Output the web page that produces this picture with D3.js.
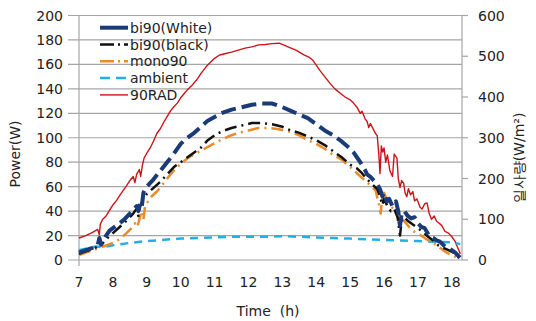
<!DOCTYPE html>
<html>
<head>
<meta charset="utf-8">
<script src="https://cdn.jsdelivr.net/npm/d3@7"></script>
<style>
  body { margin: 0; background: #fff; }
  text { font-family: "DejaVu Sans", Verdana, sans-serif; fill: #222; }
</style>
</head>
<body>
<div id="chart"></div>
<script>
// datos (hora, valor)
const radData = [[7.0,54],[7.2,60],[7.4,68],[7.55,75],[7.6,62],[7.63,88],[7.7,100],[7.8,108],[7.9,122],[8.0,135],[8.1,145],[8.2,158],[8.3,170],[8.4,182],[8.5,195],[8.6,205],[8.65,190],[8.7,210],[8.78,222],[8.82,205],[8.87,232],[8.92,250],[9.0,262],[9.1,275],[9.2,292],[9.3,311],[9.4,322],[9.5,338],[9.6,352],[9.7,366],[9.8,376],[9.9,385],[10.0,398],[10.1,408],[10.2,418],[10.35,430],[10.5,445],[10.6,458],[10.75,474],[10.9,487],[11.0,495],[11.15,503],[11.3,506],[11.5,510],[11.7,515],[11.9,520],[12.1,523],[12.3,528],[12.5,529],[12.7,531],[12.9,532],[13.0,529],[13.2,522],[13.4,515],[13.5,510],[13.65,503],[13.8,497],[13.9,490],[14.0,478],[14.1,466],[14.25,450],[14.4,434],[14.55,420],[14.7,410],[14.85,400],[15.0,393],[15.1,385],[15.2,375],[15.3,360],[15.35,365],[15.45,345],[15.5,340],[15.55,325],[15.6,335],[15.7,318],[15.75,310],[15.8,305],[15.85,255],[15.88,212],[15.92,280],[15.96,265],[16.0,275],[16.05,240],[16.1,258],[16.17,220],[16.25,205],[16.3,260],[16.38,250],[16.42,200],[16.47,178],[16.52,195],[16.58,188],[16.62,165],[16.67,155],[16.72,175],[16.78,160],[16.85,168],[16.9,145],[16.97,150],[17.06,130],[17.12,125],[17.2,138],[17.27,140],[17.33,115],[17.4,100],[17.48,108],[17.55,95],[17.6,92],[17.7,85],[17.8,70],[17.9,66],[18.0,57],[18.1,45],[18.2,25],[18.25,15]];

const whiteData = [[7.0,6],[7.2,8],[7.4,10],[7.55,12],[7.6,18],[7.65,13],[7.8,20],[7.9,24],[8.0,26],[8.15,29],[8.33,33],[8.5,38],[8.63,42],[8.7,44],[8.75,40],[8.8,46],[8.85,43],[8.9,55],[8.95,58],[9.0,60],[9.2,66],[9.4,73],[9.6,80],[9.8,87],[10.0,95],[10.2,100],[10.4,104],[10.6,109],[10.8,114],[11.0,117],[11.2,120],[11.5,123],[11.8,125],[12.1,127],[12.4,128],[12.7,128],[13.0,125],[13.25,122],[13.5,119],[13.75,116],[14.0,111],[14.25,106],[14.5,102],[14.75,97],[15.0,91],[15.1,88],[15.25,82],[15.37,77],[15.45,73],[15.5,70],[15.6,68],[15.7,65],[15.8,62],[15.88,58],[15.95,52],[16.0,55],[16.08,48],[16.15,50],[16.25,44],[16.35,48],[16.42,40],[16.47,28],[16.52,38],[16.6,40],[16.7,36],[16.8,34],[16.9,35],[17.0,30],[17.1,27],[17.2,26],[17.35,19],[17.45,18],[17.55,16],[17.65,15],[17.8,11],[17.9,10],[18.0,8],[18.1,6],[18.24,2]];

const blackData = [[7.0,5],[7.2,7],[7.4,9],[7.55,11],[7.6,16],[7.65,12],[7.8,17],[8.0,22],[8.2,27],[8.4,32],[8.6,38],[8.7,42],[8.75,36],[8.8,44],[8.9,50],[9.0,54],[9.2,59],[9.4,64],[9.6,70],[9.8,76],[10.0,80],[10.2,84],[10.4,88],[10.6,92],[10.8,98],[11.0,102],[11.2,105],[11.5,108],[11.8,110],[12.1,112],[12.4,112],[12.7,111],[13.0,109],[13.25,106],[13.5,104],[13.75,101],[14.0,98],[14.25,94],[14.5,89],[14.75,84],[15.0,78],[15.2,75],[15.35,71],[15.5,66],[15.65,62],[15.8,58],[15.88,52],[15.95,45],[16.0,50],[16.1,44],[16.2,40],[16.3,42],[16.4,35],[16.47,20],[16.52,32],[16.6,35],[16.7,32],[16.85,29],[17.0,26],[17.15,23],[17.3,19],[17.45,16],[17.6,12],[17.75,10],[17.9,8],[18.05,6],[18.24,1]];

const monoData = [[7.0,4],[7.2,6],[7.4,8],[7.6,10],[7.8,12],[8.0,14],[8.2,17],[8.4,22],[8.55,26],[8.65,30],[8.72,27],[8.8,35],[8.85,40],[8.9,33],[8.95,44],[9.1,51],[9.3,56],[9.5,63],[9.7,70],[9.9,76],[10.1,81],[10.3,85],[10.5,88],[10.7,91],[10.9,94],[11.1,97],[11.4,101],[11.7,104],[12.0,106],[12.3,108],[12.6,108],[12.9,107],[13.2,105],[13.5,102],[13.75,98],[14.0,95],[14.25,91],[14.5,86],[14.75,82],[15.0,76],[15.2,71],[15.4,66],[15.6,61],[15.75,57],[15.85,45],[15.9,38],[15.95,52],[16.0,55],[16.1,48],[16.2,45],[16.3,40],[16.4,36],[16.47,26],[16.55,33],[16.65,30],[16.8,25],[16.95,22],[17.1,20],[17.25,17],[17.4,15],[17.55,12],[17.7,9],[17.85,6],[18.0,4],[18.24,1]];

const ambientData = [[7.0,8],[7.3,10],[7.5,11],[7.7,10.5],[8.0,12],[8.5,14],[9.0,15.5],[9.5,16.5],[10.0,17.5],[10.5,18],[11.0,18.5],[11.5,19],[12.0,19],[12.5,19],[13.0,19.5],[13.5,19],[14.0,18.5],[14.5,18],[15.0,17.5],[15.5,17],[16.0,16.5],[16.5,16],[17.0,15.5],[17.5,15],[18.0,14.5],[18.25,13]];

const hourTicks = [7,8,9,10,11,12,13,14,15,16,17,18];
const powerTicks = [0,20,40,60,80,100,120,140,160,180,200];
const radTicks = [0,100,200,300,400,500,600];

const series = [
  { name: "bi90(White)", data: whiteData, axis: "left", color: "#1b3a78", width: 4, dash: "15,6", legendDash: null },
  { name: "bi90(black)", data: blackData, axis: "left", color: "#111", width: 2.5, dash: "12,5,2,5", legendDash: "14,4,2,4" },
  { name: "mono90", data: monoData, axis: "left", color: "#ec8a2a", width: 2.5, dash: "12,5,2,5", legendDash: "14,4,2,4" },
  { name: "ambient", data: ambientData, axis: "left", color: "#1fb0ea", width: 2.5, dash: "8,6", legendDash: "10,6" },
  { name: "90RAD", data: radData, axis: "right", color: "#cc1418", width: 1.4, dash: null, legendDash: null }
];

const W = 536, H = 321;
const plot = { left: 79, right: 462, top: 15.5, bottom: 260 };

const svg = d3.select("#chart").append("svg")
  .attr("width", W).attr("height", H);

const x = d3.scaleLinear().domain([7, 18.3]).range([plot.left, plot.right]);
const yL = d3.scaleLinear().domain([0, 200]).range([plot.bottom, plot.top]);
const yR = d3.scaleLinear().domain([0, 600]).range([plot.bottom, plot.top]);

// lineas de cuadricula + marcas izquierdas
svg.append("g").selectAll("line").data(powerTicks).enter().append("line")
  .attr("x1", plot.left - 11).attr("x2", plot.right)
  .attr("y1", d => yL(d)).attr("y2", d => yL(d))
  .attr("stroke", "#a6a6a6").attr("stroke-width", 1.2);

// eje izquierdo
svg.append("line")
  .attr("x1", plot.left).attr("x2", plot.left)
  .attr("y1", plot.top).attr("y2", plot.bottom + 6)
  .attr("stroke", "#a6a6a6").attr("stroke-width", 1.2);

svg.append("g").selectAll("text").data(powerTicks).enter().append("text")
  .attr("x", 63).attr("y", d => yL(d) + 5)
  .attr("text-anchor", "end").attr("font-size", 14)
  .text(d => d);

// eje derecho
svg.append("line")
  .attr("x1", plot.right).attr("x2", plot.right)
  .attr("y1", plot.top).attr("y2", plot.bottom)
  .attr("stroke", "#a6a6a6").attr("stroke-width", 1.2);
svg.append("g").selectAll("line").data(radTicks).enter().append("line")
  .attr("x1", plot.right).attr("x2", plot.right + 6)
  .attr("y1", d => yR(d)).attr("y2", d => yR(d))
  .attr("stroke", "#a6a6a6").attr("stroke-width", 1.2);
svg.append("g").selectAll("text").data(radTicks).enter().append("text")
  .attr("x", 478).attr("y", d => yR(d) + 5)
  .attr("text-anchor", "start").attr("font-size", 14)
  .text(d => d);

// eje x (etiquetas)
svg.append("g").selectAll("text").data(hourTicks).enter().append("text")
  .attr("x", d => x(d)).attr("y", 287)
  .attr("text-anchor", "middle").attr("font-size", 14)
  .text(d => d);

// titulos
svg.append("text").attr("x", 268).attr("y", 316)
  .attr("text-anchor", "middle").attr("font-size", 14)
  .attr("xml:space", "preserve").text("Time  (h)");

svg.append("text")
  .attr("transform", "translate(20,154) rotate(-90)")
  .attr("text-anchor", "middle").attr("font-size", 14)
  .text("Power(W)");

svg.append("text")
  .attr("transform", "translate(524,158) rotate(-90)")
  .attr("text-anchor", "middle").attr("font-size", 14)
  .attr("font-family", "'Noto Sans CJK KR', 'DejaVu Sans', sans-serif")
  .text("일사량(W/m²)");

// series
const plotArea = svg.append("g");
series.slice().reverse().forEach(s => {
  const yScale = s.axis === "left" ? yL : yR;
  const line = d3.line().x(d => x(d[0])).y(d => yScale(d[1]));
  plotArea.append("path")
    .datum(s.data)
    .attr("d", line)
    .attr("fill", "none")
    .attr("stroke", s.color)
    .attr("stroke-width", s.width)
    .attr("stroke-dasharray", s.dash)
    .attr("stroke-linejoin", "round");
});

// leyenda
const legend = svg.append("g");
series.forEach((s, i) => {
  const cy = 27.7 + i * 16.8;
  legend.append("line")
    .attr("x1", 100).attr("x2", 128).attr("y1", cy).attr("y2", cy)
    .attr("stroke", s.color).attr("stroke-width", s.width)
    .attr("stroke-dasharray", s.legendDash);
  legend.append("text")
    .attr("x", 130).attr("y", cy + 5).attr("font-size", 14)
    .text(s.name);
});
</script>
</body>
</html>
